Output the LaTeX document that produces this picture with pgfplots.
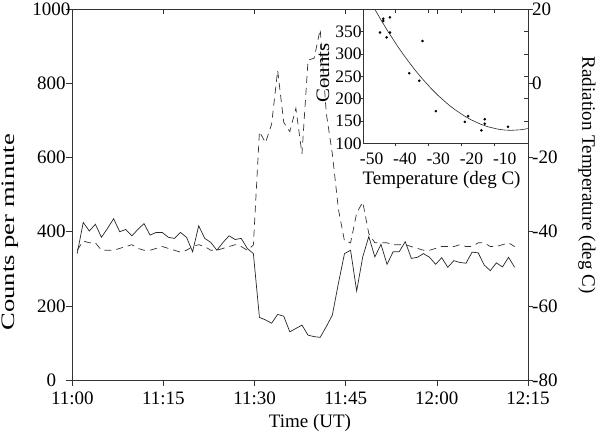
\documentclass[border=0pt]{standalone}
\usepackage{graphicx}
\usepackage{fontspec}
\setmainfont{Liberation Serif}
\usepackage{pgfplots}
\pgfplotsset{compat=1.18}
\usepackage{pgfplotstable}

\pgfplotstableread{
t c T
0.8 341 -45
1.8 425 -42.5
2.8 402 -43
3.8 420 -43
4.8 385 -45
5.8 409 -45
6.8 435 -45
7.8 400 -44.5
8.8 406 -44
9.8 389 -43.5
10.8 406 -44.5
11.8 422 -45
12.8 391 -45
13.8 398 -44.5
14.8 398 -44
15.8 385 -44.5
16.8 382 -45
17.8 398 -45.5
18.8 385 -45
19.8 346 -44
20.8 416 -43.5
21.8 382 -44
22.8 371 -45
23.8 350 -45
24.8 371 -44.5
25.8 389 -44
26.8 379 -43.5
27.8 382 -44
28.8 355 -45
29.8 341 -43.6
30.8 169 -13
31.8 162 -16
32.8 153 -11
33.8 177 3.5
34.8 172 -10.5
35.8 130 -13
36.8 139 -6.7
37.8 148 -19
38.8 121 6.3
39.8 117 6.8
40.8 115 14.6
41.8 144 -8
42.8 175 -19
43.8 261 -34
44.8 341 -42.5
45.8 350 -43
46.8 240 -35
47.8 332 -32
48.8 387 -40.5
49.8 332 -43
50.8 366 -43
51.8 312 -43
52.8 346 -43.5
53.8 346 -43.5
54.8 373 -43.5
55.8 328 -44
56.8 331 -44.5
57.8 341 -45
58.8 331 -45
59.8 312 -44.5
60.8 330 -44
61.8 304 -44
62.8 322 -44
63.8 317 -43.5
64.8 315 -44
65.8 345 -44
66.8 343 -43
67.8 310 -43
68.8 295 -44
69.8 316 -44
70.8 305 -43.5
71.8 331 -43
72.8 304 -44
}\maindata

\pgfplotsset{
  mainpos/.style={at={(72.3pt,56pt)}, anchor=south west, scale only axis,
    width=455.7pt, height=370.7pt, xmin=0, xmax=75,
    axis line style={black!80, line width=0.7pt},
    tick style={black!80, line width=0.7pt}},
  insetpos/.style={at={(363.3pt,292.7pt)}, anchor=south west, scale only axis,
    width=164.7pt, height=134pt, xmin=-52.5, xmax=-3, ymin=100, ymax=400,
    axis line style={black!80, line width=0.6pt},
    tick style={black!80, line width=0.6pt}},
}

\begin{document}
\fontsize{19}{23}\selectfont
\begin{tikzpicture}[x=1pt,y=1pt]
\useasboundingbox (0,0) rectangle (600,436);

% main axis: counts
\begin{axis}[mainpos, ymin=0, ymax=1000,
  xtick={0,15,30,45,60,75}, xticklabels={11:00,11:15,11:30,11:45,12:00,12:15},
  ytick={0,200,400,600,800,1000}, yticklabels={0,200,400,600,800,1000},
  xtick pos=left, ytick pos=left, tick align=outside, major tick length=6pt,
  yticklabel style={anchor=center, inner sep=0pt, xshift=-14.8pt},
  xticklabel style={anchor=north, inner sep=0pt, yshift=-5.7pt},
  every axis x label/.style={at={(axis description cs:0.5216,-0.116)}, anchor=center, inner sep=0pt},
  every axis y label/.style={at={(axis description cs:-0.1367,0.399)}, anchor=center, rotate=90, inner sep=0pt},
  xlabel={Time (UT)}, ylabel={\scalebox{1.4}[1]{Counts per minute}}]
\addplot[black!85, line width=0.7pt] table[x=t,y=c]{\maindata};
\end{axis}

% right axis: radiation temperature
\begin{axis}[mainpos, ymin=-80, ymax=20, axis x line=none, axis y line*=right,
  ytick={-80,-60,-40,-20,0,20}, yticklabels={-80,-60,-40,-20,0,20},
  tick align=outside, major tick length=5pt,
  yticklabel style={anchor=west, inner sep=0pt, xshift=-1pt},
  every axis y label/.style={at={(axis description cs:1.1295,0.553)}, anchor=center, rotate=-90, inner sep=0pt},
  ylabel={Radiation Temperature (deg C)}]
\addplot[black!80, line width=0.7pt, dash pattern=on 7pt off 5pt] table[x=t,y=T]{\maindata};
\end{axis}

% top ticks of main axis (inward)
\begin{axis}[mainpos, ymin=0, ymax=1, xtick={15,30,45,60}, xticklabels={}, ytick=\empty,
  xtick pos=right, tick align=inside, major tick length=5pt, axis line style={draw=none}]
\end{axis}

% inset: labels and data
\begin{axis}[insetpos,
  xtick={-50,-40,-30,-20,-10}, xticklabels={-50,-40,-30,-20,-10},
  ytick={100,150,200,250,300,350}, yticklabels={100,150,200,250,300,350},
  xtick pos=left, ytick pos=left, major tick length=0pt,
  every tick label/.append style={font=\fontsize{17.5}{20}\selectfont},
  yticklabel style={anchor=east, inner sep=0pt, xshift=-1.5pt},
  xticklabel style={anchor=center, inner sep=0pt, yshift=-15.7pt},
  every axis x label/.style={at={(axis description cs:0.475,-0.274)}, anchor=center, inner sep=0pt},
  every axis y label/.style={at={(axis description cs:-0.245,0.525)}, anchor=center, rotate=90, inner sep=0pt},
  xlabel={Temperature (deg C)}, ylabel={\scalebox{1.1}[1]{Counts}}]
\addplot[black!85, line width=0.6pt] coordinates {
(-49,399.6) (-47,373.9) (-45,349.4) (-42,315.1) (-40,293.9) (-37,264.4) (-35,246.4)
(-32,221.7) (-30,206.9) (-27,187.1) (-25,175.5) (-22,160.6) (-20,152.2) (-17,142.0)
(-15,136.9) (-12,131.6) (-10,129.6) (-8,129) (-5,130.4) (-3,133)};
\addplot[only marks, mark=*, mark size=1.1pt, black] coordinates {
(-47.5,348) (-46.5,379) (-46.5,374) (-44.5,382) (-45.5,337) (-44.5,348)
(-34.7,329) (-38.7,257) (-35.7,240) (-30.7,172) (-22,148) (-21,161)
(-16,154) (-16,144) (-17,129) (-9,137)};
\end{axis}

% inset ticks outward (bottom/left)
\begin{axis}[insetpos, xtick={-43,-33,-23,-13}, ytick={150,200,250,300,350},
  xticklabels={}, yticklabels={}, xtick pos=left, ytick pos=left,
  tick align=outside, major tick length=3pt, axis line style={draw=none}]
\end{axis}
% inset ticks inward (top/right) and frame
\begin{axis}[insetpos, xtick={-43,-33,-23,-13}, ytick={150,200,250,300,350},
  xticklabels={}, yticklabels={}, xtick pos=right, ytick pos=right,
  tick align=inside, major tick length=4pt]
\end{axis}
\end{tikzpicture}
\end{document}
